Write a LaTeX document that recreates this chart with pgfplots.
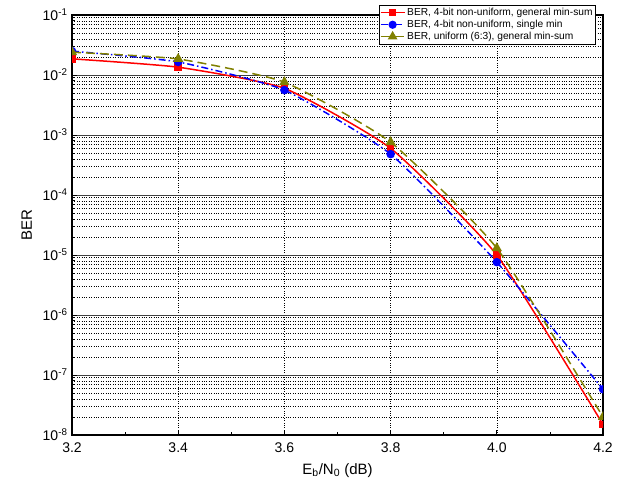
\documentclass[border=0pt]{standalone}
\usepackage{fontspec}
\setmainfont{Liberation Sans}
\usepackage{pgfplots}
\pgfplotsset{compat=1.18}
\usetikzlibrary{calc}
\definecolor{olivec}{RGB}{128,128,0}

\begin{document}
\begin{tikzpicture}
\begin{axis}[
    name=ax,
    width=531pt, height=420pt,
    scale only axis,
    ymode=log,
    xmin=3.2, xmax=4.2,
    ymin=1e-8, ymax=1e-1,
    xtick={3.2,3.4,3.6,3.8,4.0,4.2},
    xticklabels={3.2,3.4,3.6,3.8,4.0,4.2},
    minor x tick num=1,
    ytick={1e-8,1e-7,1e-6,1e-5,1e-4,1e-3,1e-2,1e-1},
    yticklabels={10\textsuperscript{-8},10\textsuperscript{-7},10\textsuperscript{-6},10\textsuperscript{-5},10\textsuperscript{-4},10\textsuperscript{-3},10\textsuperscript{-2},10\textsuperscript{-1}},
    tick align=inside,
    xtick pos=bottom, ytick pos=left,
    major tick length=5pt, minor tick length=3pt,
    tick style={black, line width=0.7pt},
    axis line style={black, line width=1.1pt},
    ticklabel style={font=\fontsize{14}{14}\selectfont},
    xticklabel style={yshift=-4pt},
    yticklabel style={xshift=-1pt},
    xlabel={E\textsubscript{b}/N\textsubscript{0} (dB)},
    ylabel={BER},
    xlabel style={font=\fontsize{15}{15}\selectfont, yshift=-4pt},
    ylabel style={font=\fontsize{15}{15}\selectfont, yshift=4pt},
    xmajorgrids, ymajorgrids, yminorgrids,
    major x grid style={black, dotted, line width=0.6pt},
    major y grid style={black!75, solid, line width=0.9pt},
    minor y grid style={black, dotted, line width=0.6pt},
    clip marker paths=true,
    legend style={at={(0.9868,1.0238)}, anchor=north east, draw=black, line width=0.8pt,
        font=\fontsize{10.2}{11}\selectfont, inner sep=1pt, row sep=-1pt,
        fill=white},
    legend cell align=left,
    legend image code/.code={\draw[mark repeat=2,mark phase=2] plot coordinates {(0pt,0pt)(12pt,0pt)(24pt,0pt)};},
    legend image post style={line width=1.2pt},
]
\addplot[red, line width=1.5pt, smooth, tension=0.3, mark=square*, mark size=3pt, mark options={solid}]
    coordinates {(3.2,0.0186)(3.4,0.0135)(3.6,0.006)(3.8,6.0e-4)(4.0,1.0e-5)(4.2,1.5e-8)};
\addlegendentry{BER, 4-bit non-uniform, general min-sum}
\addplot[blue, line width=1.5pt, smooth, tension=0.3, dash pattern=on 7pt off 3pt on 1.5pt off 3pt, mark=*, mark size=3.5pt, mark options={solid}]
    coordinates {(3.2,0.025)(3.4,0.0165)(3.6,0.0056)(3.8,4.8e-4)(4.0,7.6e-6)(4.2,5.8e-8)};
\addlegendentry{BER, 4-bit non-uniform, single min}
\addplot[olivec, line width=1.5pt, smooth, tension=0.3, dash pattern=on 9pt off 5pt, mark=triangle*, mark size=4.5pt, mark options={solid}]
    coordinates {(3.2,0.024)(3.4,0.0185)(3.6,0.0076)(3.8,7.6e-4)(4.0,1.3e-5)(4.2,2.0e-8)};
\addlegendentry{BER, uniform (6:3), general min-sum}
\end{axis}
\pgfresetboundingbox
\path[use as bounding box] ($(ax.south west)+(-72pt,-53pt)$) rectangle ($(ax.north east)+(23pt,15pt)$);
\end{tikzpicture}
\end{document}
